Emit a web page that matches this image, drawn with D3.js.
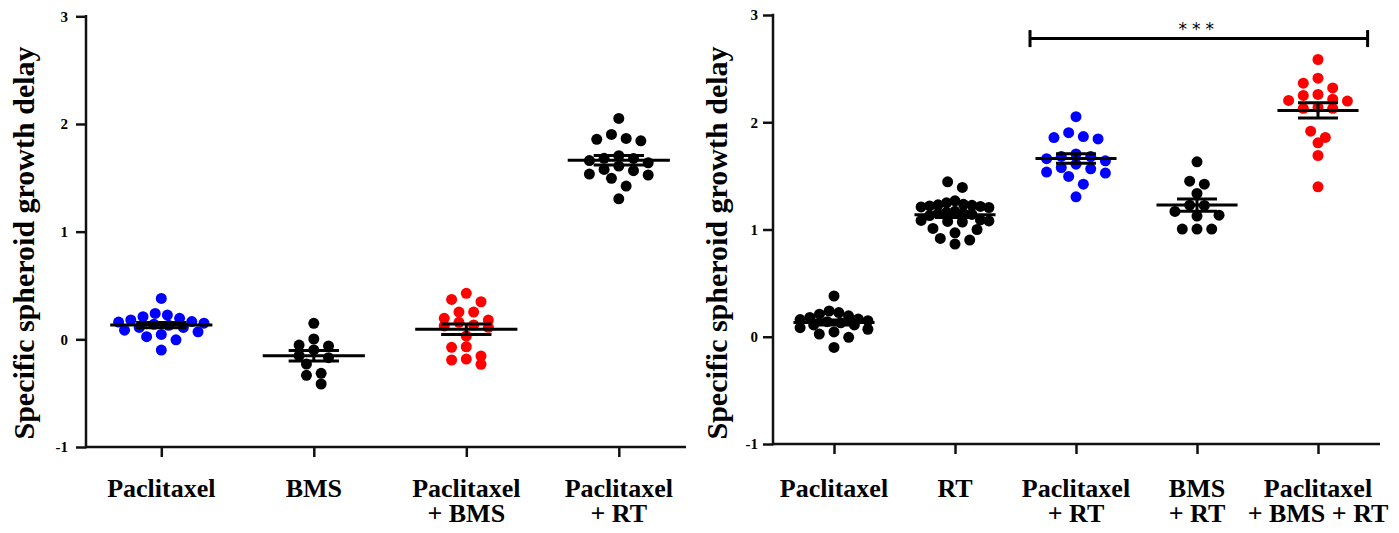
<!DOCTYPE html>
<html>
<head>
<meta charset="utf-8">
<script src="https://cdn.jsdelivr.net/npm/d3@7"></script>
<style>
  html, body { margin: 0; padding: 0; background: #fff; }
  svg { display: block; }
  text { font-family: "Liberation Serif", "Times New Roman", serif; font-weight: bold; fill: #000; }
</style>
</head>
<body>
<svg id="chart" width="1399" height="533"></svg>
<script>
// ---------------- data ----------------
const yTicks = [-1, 0, 1, 2, 3];
const yTitle = "Specific spheroid growth delay";

const paclitaxel = [0.38, 0.225, 0.165, 0.14, 0.195, 0.21, 0.24, 0.18, 0.15, 0.11, 0.11, 0.085, 0.07, 0.025, 0.045, -0.005, -0.10, 0.13, 0.16];
const bms = [0.149, 0.003, -0.053, -0.062, -0.099, -0.152, -0.23, -0.316, -0.334, -0.415, -0.17];
const paclitaxelBms = [0.427, 0.371, 0.349, 0.253, 0.253, 0.179, 0.195, 0.158, 0.133, 0.111, 0.124, 0.031, -0.069, -0.074, -0.183, -0.155, -0.192, -0.232];
const paclitaxelRt = [2.052, 1.903, 1.857, 1.844, 1.866, 1.705, 1.681, 1.66, 1.68, 1.64, 1.609, 1.566, 1.526, 1.535, 1.578, 1.495, 1.423, 1.305];
const rt = [1.445, 1.392, 1.267, 1.249, 1.235, 1.23, 1.225, 1.22, 1.215, 1.21, 1.205, 1.17, 1.16, 1.15, 1.15, 1.14, 1.13, 1.09, 1.085, 1.08, 1.075, 1.07, 1.01, 1.0, 0.969, 0.917, 0.901, 0.864];
const bmsRt = [1.631, 1.451, 1.423, 1.336, 1.227, 1.224, 1.168, 1.134, 1.125, 1.004, 1.004, 1.004];
const paclitaxelBmsRt = [2.585, 2.411, 2.364, 2.32, 2.25, 2.259, 2.203, 2.215, 2.197, 2.14, 2.13, 2.13, 1.917, 1.858, 1.808, 1.69, 1.398];

const leftCategories = ["Paclitaxel", "BMS", "Paclitaxel + BMS", "Paclitaxel + RT"];
const leftLabels = [["Paclitaxel"], ["BMS"], ["Paclitaxel", "+ BMS"], ["Paclitaxel", "+ RT"]];
const leftSeries = [paclitaxel, bms, paclitaxelBms, paclitaxelRt];
const leftColors = ["#0000ff", "#000000", "#ff0000", "#000000"];

const rightCategories = ["Paclitaxel", "RT", "Paclitaxel + RT", "BMS + RT", "Paclitaxel + BMS + RT"];
const rightLabels = [["Paclitaxel"], ["RT"], ["Paclitaxel", "+ RT"], ["BMS", "+ RT"], ["Paclitaxel", "+ BMS + RT"]];
const rightSeries = [paclitaxel, rt, paclitaxelRt, bmsRt, paclitaxelBmsRt];
const rightColors = ["#000000", "#000000", "#0000ff", "#000000", "#ff0000"];

const sigFrom = "Paclitaxel + RT", sigTo = "Paclitaxel + BMS + RT", sigLabel = "***", sigLevel = 2.78;

// ---------------- drawing ----------------
const svg = d3.select("#chart");
const R = 5.5;

// Prism-like row scatter: group points into rows about one dot high,
// spread each row symmetrically, compressing wide rows.
function rowScatter(values, y, maxWidth) {
  const pts = values.map(v => ({ v, py: y(v) })).sort((a, b) => a.py - b.py);
  const rowH = 10, gap = 14.7;
  let i = 0;
  while (i < pts.length) {
    const start = pts[i].py;
    const row = [];
    while (i < pts.length && pts[i].py - start < rowH) { row.push(pts[i]); i++; }
    const n = row.length;
    const s = n > 1 ? Math.min(gap, maxWidth / (n - 1)) : 0;
    const slots = d3.range(n).map(j => (j - (n - 1) / 2) * s);
    // assign centre-out
    const order = slots.slice().sort((a, b) => Math.abs(a) - Math.abs(b) || a - b);
    row.forEach((p, j) => { p.dx = order[j]; });
  }
  return pts;
}

function panel(opt) {
  const g = svg.append("g");
  const x = d3.scalePoint().domain(opt.categories).range(opt.xRange);
  const y = d3.scaleLinear().domain([-1, 3]).range(opt.yRange);
  const step = x.step();

  // y axis
  const ya = g.append("g").attr("transform", `translate(${opt.axisX},0)`)
    .call(d3.axisLeft(y).tickValues(yTicks).tickSize(10).tickPadding(opt.tickPad).tickFormat(d => String(d)));
  ya.select(".domain").remove();
  ya.selectAll(".tick line").attr("stroke", "#111").attr("stroke-width", 2.5);
  ya.selectAll(".tick text").style("font-size", "15px").style("font-family", "Liberation Serif").style("font-weight", "bold").attr("fill", "#000");
  g.append("line").attr("x1", opt.axisX).attr("x2", opt.axisX)
    .attr("y1", y(3) - 1.2).attr("y2", y(-1) + 1.2).attr("stroke", "#111").attr("stroke-width", 2.5);

  // x axis
  const xa = g.append("g").attr("transform", `translate(0,${y(-1)})`)
    .call(d3.axisBottom(x).tickSize(10).tickFormat(""));
  xa.select(".domain").remove();
  xa.selectAll(".tick line").attr("stroke", "#111").attr("stroke-width", 2.5);
  g.append("line").attr("x1", opt.axisX).attr("x2", opt.axisEnd)
    .attr("y1", y(-1)).attr("y2", y(-1)).attr("stroke", "#111").attr("stroke-width", 2.5);

  // x labels
  opt.categories.forEach((c, i) => {
    const t = g.append("text").attr("text-anchor", "middle").style("font-size", "26px");
    opt.labels[i].forEach((ln, j) => {
      t.append("tspan").attr("x", x(c)).attr("y", 497 + j * 24.5).text(ln);
    });
  });

  // y title
  g.append("text").attr("text-anchor", "middle").style("font-size", "30px")
    .attr("transform", `translate(${opt.titleX},243) rotate(-90)`).text(yTitle);

  // dots + mean/SEM
  opt.series.forEach((vals, i) => {
    const cx = x(opt.categories[i]);
    const pts = rowScatter(vals, y, step * 0.56);
    g.append("g").selectAll("circle").data(pts).join("circle")
      .attr("cx", p => cx + p.dx).attr("cy", p => p.py).attr("r", R)
      .attr("fill", opt.colors[i]);
    const mean = d3.mean(vals);
    const sem = d3.deviation(vals) / Math.sqrt(vals.length);
    const mw = step * 0.335, sw = step * 0.165;
    const lg = g.append("g").attr("stroke", "#000").attr("stroke-width", 3);
    lg.append("line").attr("x1", cx - mw).attr("x2", cx + mw).attr("y1", y(mean)).attr("y2", y(mean));
    lg.append("line").attr("x1", cx - sw).attr("x2", cx + sw).attr("y1", y(mean + sem)).attr("y2", y(mean + sem));
    lg.append("line").attr("x1", cx - sw).attr("x2", cx + sw).attr("y1", y(mean - sem)).attr("y2", y(mean - sem));
    lg.append("line").attr("x1", cx).attr("x2", cx).attr("y1", y(mean + sem)).attr("y2", y(mean - sem));
  });
  return { g, x, y };
}

panel({
  categories: leftCategories, labels: leftLabels, series: leftSeries, colors: leftColors,
  xRange: [161.3, 618.8], yRange: [447, 16.3], axisX: 86, axisEnd: 686, tickPad: 8, titleX: 34
});

const right = panel({
  categories: rightCategories, labels: rightLabels, series: rightSeries, colors: rightColors,
  xRange: [834, 1318], yRange: [444, 15], axisX: 773, axisEnd: 1380, tickPad: 5, titleX: 727
});

// significance bracket
{
  const { g, x, y } = right;
  const st = x.step();
  const x1 = x(sigFrom) - st * 0.38, x2 = x(sigTo) + st * 0.41, yy = y(sigLevel);
  const bg = g.append("g").attr("stroke", "#000").attr("stroke-width", 3);
  bg.append("line").attr("x1", x1).attr("x2", x2).attr("y1", yy).attr("y2", yy);
  bg.append("line").attr("x1", x1).attr("x2", x1).attr("y1", yy - 8.5).attr("y2", yy + 8.5);
  bg.append("line").attr("x1", x2).attr("x2", x2).attr("y1", yy - 8.5).attr("y2", yy + 8.5);
  g.append("text").attr("text-anchor", "middle").attr("x", (x1 + x2) / 2).attr("y", yy - 4)
    .style("font-size", "17px").style("font-family", "DejaVu Sans").style("font-weight", "normal")
    .style("letter-spacing", "5px").text(sigLabel);
}
</script>
</body>
</html>
